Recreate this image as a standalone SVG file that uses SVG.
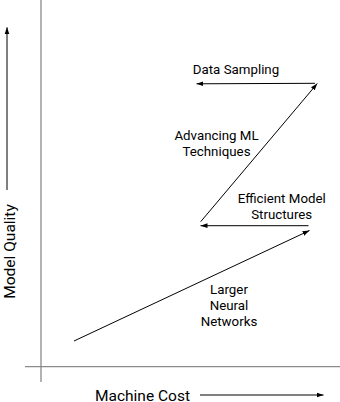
<svg xmlns="http://www.w3.org/2000/svg" width="340" height="402" viewBox="0 0 340 402">
<style>
.lbl{font-family:Roboto,"Liberation Sans",sans-serif;font-size:13.3px;fill:#000;text-anchor:middle}
.ax{font-family:Roboto,"Liberation Sans",sans-serif;font-size:15.5px;fill:#000;text-anchor:middle}
.axis{stroke:#8a8a8a;stroke-width:1.3;fill:none}
.arr{stroke:#000;stroke-width:1;fill:none;marker-end:url(#ah)}
</style>
<defs>
<marker id="ah" markerUnits="userSpaceOnUse" markerWidth="8" markerHeight="6" refX="7" refY="3" orient="auto">
<path d="M0,0.6 L7,3 L0,5.4 Z" fill="#000"/>
</marker>
</defs>
<rect width="340" height="402" fill="#fff"/>
<g id="axes">
<line class="axis" x1="41" y1="0" x2="41" y2="382"/>
<line class="axis" x1="25" y1="366.7" x2="340" y2="366.7"/>
</g>
<g id="connectors">
<line class="arr" x1="74" y1="341" x2="309.5" y2="230.5"/>
<line class="arr" x1="308.5" y1="225.7" x2="200.5" y2="225.7"/>
<line class="arr" x1="200.7" y1="221.7" x2="317.3" y2="83.5"/>
<line class="arr" x1="315" y1="83.3" x2="196.5" y2="83.8"/>
<line class="arr" x1="7" y1="190" x2="7" y2="27.3"/>
<line class="arr" x1="200" y1="395" x2="323.5" y2="395"/>
</g>
<g id="larger-neural-networks">
<text class="lbl" x="229" y="294.3">Larger</text>
<text class="lbl" x="229" y="310">Neural</text>
<text class="lbl" x="229" y="325.7">Networks</text>
</g>
<g id="efficient-model-structures">
<text class="lbl" x="281.7" y="203.3">Efficient Model</text>
<text class="lbl" x="281.7" y="218.5">Structures</text>
</g>
<g id="advancing-ml-techniques">
<text class="lbl" x="216.5" y="140">Advancing ML</text>
<text class="lbl" x="216.5" y="155.6">Techniques</text>
</g>
<g id="data-sampling">
<text class="lbl" x="236" y="74.3">Data Sampling</text>
</g>
<g id="axis-labels">
<text class="ax" x="142.5" y="400.5">Machine Cost</text>
<text class="ax" transform="translate(15,251.5) rotate(-90)">Model Quality</text>
</g>
</svg>
